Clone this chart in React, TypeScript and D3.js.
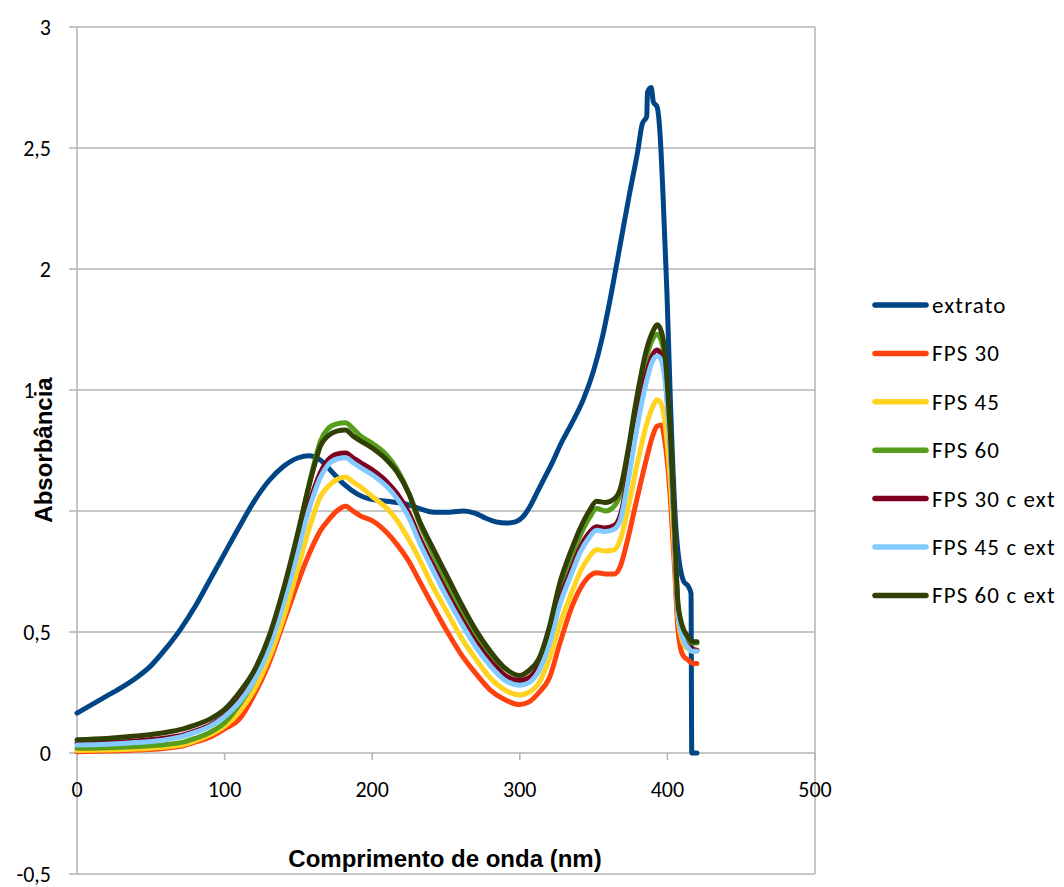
import React from 'react';
import * as d3 from 'd3';

const WAVE = [0, 20, 40, 60, 72, 80, 90, 100, 110, 120,
  130, 140, 150, 155, 160, 165, 170, 176, 182, 187,
  192, 200, 210, 217, 225, 232, 240, 250, 260, 270,
  280, 290, 300, 306, 313, 320, 327, 335, 341, 347,
  352, 358, 364, 368, 373, 379, 386, 390, 393, 396,
  398, 400, 402, 405, 407, 409, 411, 414, 417, 420];

const EXTRATO_X = [0, 10, 20, 30, 40, 50, 60, 70, 80, 90, 100, 110, 120, 130, 140, 150, 157, 165, 173, 181,
  190, 198, 210, 222, 232, 242, 252, 262, 270, 277, 284, 291, 297, 302, 307, 312, 317, 322, 328, 335,
  343, 350, 356, 362, 368, 374, 380, 383, 386, 386.5, 389, 390.5, 393, 395, 397, 399.7, 402,
  406, 411, 414, 416, 416.5, 420];
const EXTRATO = [0.165, 0.20, 0.235, 0.27, 0.31, 0.36, 0.43, 0.51, 0.605, 0.715, 0.825, 0.935, 1.04, 1.125, 1.185, 1.22, 1.228, 1.21, 1.16, 1.11,
  1.07, 1.05, 1.04, 1.03, 1.01, 0.995, 0.995, 1.0, 0.99, 0.97, 0.955, 0.95, 0.955, 0.975, 1.02, 1.08, 1.14, 1.2, 1.28, 1.36,
  1.46, 1.58, 1.72, 1.9, 2.1, 2.3, 2.49, 2.6, 2.63, 2.73, 2.75, 2.69, 2.67, 2.56, 2.31, 1.9, 1.46,
  0.91, 0.71, 0.69, 0.66, 0, 0];

const FPS30 = [0.005, 0.008, 0.012, 0.02, 0.03, 0.045, 0.065, 0.10, 0.14, 0.24,
  0.37, 0.54, 0.71, 0.79, 0.86, 0.92, 0.96, 1.00, 1.02, 1.00,
  0.98, 0.96, 0.91, 0.86, 0.79, 0.71, 0.62, 0.51, 0.41, 0.33,
  0.26, 0.22, 0.20, 0.21, 0.25, 0.31, 0.45, 0.60, 0.68, 0.73,
  0.745, 0.74, 0.74, 0.77, 0.88, 1.04, 1.22, 1.31, 1.35, 1.355,
  1.30, 1.20, 1.05, 0.75, 0.52, 0.43, 0.40, 0.385, 0.37, 0.37];

const FPS45 = [0.01, 0.012, 0.016, 0.025, 0.035, 0.05, 0.075, 0.11, 0.17, 0.26,
  0.39, 0.56, 0.77, 0.88, 0.98, 1.06, 1.10, 1.13, 1.14, 1.12,
  1.10, 1.06, 1.01, 0.96, 0.88, 0.80, 0.70, 0.59, 0.48, 0.39,
  0.31, 0.26, 0.24, 0.25, 0.29, 0.39, 0.53, 0.66, 0.75, 0.81,
  0.84, 0.835, 0.84, 0.88, 1.00, 1.18, 1.36, 1.43, 1.46, 1.44,
  1.38, 1.27, 1.12, 0.80, 0.57, 0.49, 0.45, 0.43, 0.42, 0.42];

const FPS60 = [0.02, 0.022, 0.027, 0.035, 0.045, 0.06, 0.085, 0.125, 0.20, 0.30,
  0.45, 0.66, 0.91, 1.05, 1.18, 1.29, 1.34, 1.36, 1.365, 1.34,
  1.31, 1.28, 1.23, 1.17, 1.07, 0.95, 0.84, 0.71, 0.59, 0.48,
  0.39, 0.32, 0.29, 0.31, 0.36, 0.49, 0.67, 0.81, 0.90, 0.97,
  1.01, 1.0, 1.02, 1.07, 1.22, 1.44, 1.64, 1.71, 1.73, 1.70,
  1.64, 1.50, 1.30, 0.90, 0.62, 0.54, 0.50, 0.47, 0.455, 0.455];

const FPS30_EXT = [0.04, 0.043, 0.05, 0.062, 0.075, 0.09, 0.115, 0.155, 0.22, 0.31,
  0.45, 0.64, 0.86, 0.98, 1.08, 1.16, 1.21, 1.235, 1.24, 1.22,
  1.20, 1.17, 1.12, 1.07, 0.99, 0.89, 0.79, 0.67, 0.56, 0.46,
  0.38, 0.32, 0.30, 0.31, 0.36, 0.47, 0.63, 0.76, 0.85, 0.91,
  0.935, 0.93, 0.94, 0.98, 1.13, 1.36, 1.57, 1.645, 1.665, 1.64,
  1.58, 1.45, 1.27, 0.88, 0.60, 0.52, 0.47, 0.44, 0.43, 0.425];

const FPS45_EXT = [0.033, 0.036, 0.043, 0.055, 0.07, 0.085, 0.11, 0.15, 0.21, 0.30,
  0.43, 0.62, 0.84, 0.96, 1.06, 1.14, 1.19, 1.215, 1.22, 1.20,
  1.18, 1.15, 1.10, 1.05, 0.97, 0.87, 0.77, 0.65, 0.54, 0.44,
  0.36, 0.30, 0.28, 0.29, 0.34, 0.45, 0.61, 0.74, 0.83, 0.89,
  0.92, 0.915, 0.925, 0.96, 1.11, 1.33, 1.54, 1.62, 1.64, 1.62,
  1.56, 1.43, 1.25, 0.87, 0.60, 0.51, 0.465, 0.435, 0.42, 0.42];

const FPS60_EXT = [0.055, 0.06, 0.07, 0.085, 0.10, 0.115, 0.14, 0.18, 0.25, 0.34,
  0.48, 0.68, 0.92, 1.05, 1.17, 1.27, 1.31, 1.33, 1.335, 1.31,
  1.29, 1.26, 1.21, 1.16, 1.07, 0.96, 0.86, 0.74, 0.62, 0.51,
  0.42, 0.35, 0.32, 0.34, 0.39, 0.52, 0.70, 0.84, 0.93, 1.00,
  1.04, 1.035, 1.05, 1.09, 1.24, 1.46, 1.67, 1.74, 1.77, 1.74,
  1.67, 1.52, 1.32, 0.91, 0.63, 0.55, 0.51, 0.48, 0.46, 0.46];

const SERIES_NAMES = ['extrato', 'FPS 30', 'FPS 45', 'FPS 60', 'FPS 30 c ext', 'FPS 45 c ext', 'FPS 60 c ext'];
const SERIES_COLORS = ['#004586', '#ff420e', '#ffd320', '#579d1c', '#7e0021', '#83caff', '#314004'];

const X_TICKS = [0, 100, 200, 300, 400, 500];
const Y_TICKS = [-0.5, 0, 0.5, 1, 1.5, 2, 2.5, 3];

const X_TITLE = 'Comprimento de onda (nm)';
const Y_TITLE = 'Absorbância';

export default function App() {
  const x = d3.scaleLinear().domain([0, 500]).range([77, 815]);
  const y = d3.scaleLinear().domain([-0.5, 3]).range([874, 27]);
  const line = d3.line<[number, number]>()
    .x(d => x(d[0]))
    .y(d => y(d[1]))
    .curve(d3.curveMonotoneX);

  const valueArrays = [EXTRATO, FPS30, FPS45, FPS60, FPS30_EXT, FPS45_EXT, FPS60_EXT];
  const series = SERIES_NAMES.map((name, i) => {
    const xs = i === 0 ? EXTRATO_X : WAVE;
    const pts: [number, number][] = xs.map((xv, j) => [xv, valueArrays[i][j]]);
    return { name, color: SERIES_COLORS[i], pts };
  });

  const grid = '#b3b3b3';
  const tickFont = 'Carlito, Lato, sans-serif';
  const titleFont = "'Liberation Sans', Arial, sans-serif";
  const fmt = (v: number) => String(v).replace('.', ',');

  return (
    <svg width={1064} height={887} style={{ position: 'absolute', left: 0, top: 0, background: '#fff' }}>
      <rect x={0} y={0} width={1064} height={887} fill="#fff" />
      {Y_TICKS.map(t => (
        <line key={'g' + t} x1={x(0)} x2={x(500)} y1={y(t)} y2={y(t)} stroke={grid} strokeWidth={1.5} />
      ))}
      <line x1={x(500)} x2={x(500)} y1={y(3)} y2={y(-0.5)} stroke={grid} strokeWidth={1.5} />
      <line x1={x(0)} x2={x(0)} y1={y(3)} y2={y(-0.5)} stroke={grid} strokeWidth={1.5} />
      {Y_TICKS.map(t => (
        <line key={'yt' + t} x1={x(0) - 8} x2={x(0)} y1={y(t)} y2={y(t)} stroke={grid} strokeWidth={1.5} />
      ))}
      {X_TICKS.map(t => (
        <line key={'xt' + t} x1={x(t)} x2={x(t)} y1={y(0)} y2={y(0) + 7} stroke={grid} strokeWidth={1.5} />
      ))}
      {Y_TICKS.map(t => (
        <text key={'yl' + t} x={51} y={y(t) + 8} textAnchor="end" fontFamily={tickFont} fontSize={22} fill="#000">{fmt(t)}</text>
      ))}
      {X_TICKS.map(t => (
        <text key={'xl' + t} x={x(t)} y={y(0) + 44} textAnchor="middle" fontFamily={tickFont} fontSize={22} fill="#000">{t}</text>
      ))}
      {series.map(s => (
        <path key={s.name} d={line(s.pts) || ''} fill="none" stroke={s.color} strokeWidth={5} strokeLinejoin="round" strokeLinecap="round" />
      ))}
      <rect x={36} y={376} width={20} height={150} fill="#fff" />
      <text transform={`translate(52,450) rotate(-90)`} textAnchor="middle" fontFamily={titleFont} fontWeight="bold" fontSize={24} fill="#000">{Y_TITLE}</text>
      <text x={445} y={867} textAnchor="middle" fontFamily={titleFont} fontWeight="bold" fontSize={24} fill="#000">{X_TITLE}</text>
      {series.map((s, i) => {
        const cy = 305 + i * 48.4;
        return (
          <g key={'lg' + s.name}>
            <line x1={875} x2={926} y1={cy} y2={cy} stroke={s.color} strokeWidth={5.5} strokeLinecap="round" />
            <text x={932} y={cy + 8} fontFamily={tickFont} fontSize={23} letterSpacing={1.1} fill="#000">{s.name}</text>
          </g>
        );
      })}
    </svg>
  );
}
